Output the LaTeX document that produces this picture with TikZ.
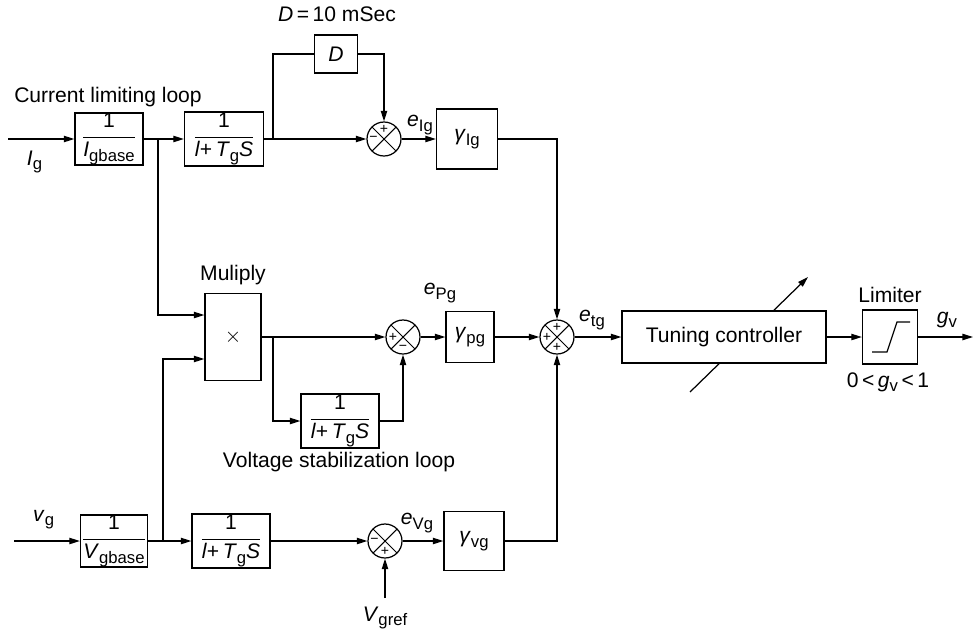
\documentclass[tikz,border=0pt]{standalone}
\usepackage{amsmath}
\usepackage{fontspec}
\setmainfont{Liberation Sans}
\usetikzlibrary{positioning, arrows.meta, calc}

\newcommand{\vsub}[2]{\textit{#1}\raisebox{-0.4ex}{\fontsize{9.5}{10}\selectfont #2}}
\newcommand{\blockfrac}[2]{$\dfrac{\text{#1}}{\text{#2}}$}

\begin{document}
\begin{tikzpicture}[x=0.02cm, y=-0.02cm,
  every node/.style={font=\fontsize{12}{14}\selectfont},
  block/.style={rectangle, draw, line width=0.7pt, inner sep=0pt, fill=white},
  sumjunc/.style={circle, draw, line width=0.7pt, minimum size=0.68cm, inner sep=0pt,
    path picture={\draw[line width=0.6pt] (path picture bounding box.north west) -- (path picture bounding box.south east)
      (path picture bounding box.north east) -- (path picture bounding box.south west);}},
  sign/.style={font=\fontsize{8}{9}\selectfont, inner sep=0pt},
  line/.style={line width=0.7pt},
  arr/.style={line width=0.7pt, -{Triangle[length=6pt,width=3.6pt]}}
]
\useasboundingbox (0,0) rectangle (973,632);

% Current limiting loop
\node (curlbl) at (108,97) {Current limiting loop};
\coordinate (igin) at (8,139);
\node[block, minimum width=1.36cm, minimum height=1.04cm] (igain) at (109,139) {\blockfrac{1}{\vsub{I}{gbase}}};
\node[block, minimum width=1.58cm, minimum height=1.08cm] (lagi) at (224,139) {\blockfrac{1}{\textit{l}+\,\vsub{T}{g}\textit{S}}};
\node[block, minimum width=0.86cm, minimum height=0.76cm] (dly) at (336,54) {\textit{D}};
\node (dlylbl) at (337,14) {\textit{D}\,=\,10 mSec};
\node[sumjunc] (sumi) at (384,139) {};
\node[sign] (sumip) at ([yshift=0.2cm]sumi.center) {+};
\node[sign] (sumim) at ([xshift=-0.21cm]sumi.center) {−};
\node[block, minimum width=1.22cm, minimum height=1.2cm] (gami) at (467,139) {\vsub{γ}{Ig}};

\draw[arr] (igin) -- node[below=3pt, pos=0.4] (iglbl) {\vsub{I}{g}} (igain);
\draw[arr] (igain) -- (lagi);
\draw[arr] (lagi) -- (sumi);
\draw[line] (273,139) |- (dly);
\draw[arr] (dly) -| (sumi);
\draw[arr] (sumi) -- (gami);
\node (eig) at (420,125) {\vsub{e}{Ig}};

% Multiply / voltage stabilization loop
\node (mullbl) at (233,275) {Muliply};
\node[block, minimum width=1.12cm, minimum height=1.74cm] (mul) at (233,337) {$\times$};
\node[sumjunc] (sump) at (403,337) {};
\node[sign] (sumpp) at ([xshift=-0.2cm]sump.center) {+};
\node[sign] (sumpm) at ([yshift=-0.21cm]sump.center) {−};
\node[block, minimum width=1.56cm, minimum height=1.08cm] (lagp) at (340,421) {\blockfrac{1}{\textit{l}+\,\vsub{T}{g}\textit{S}}};
\node (vslbl) at (339,462) {Voltage stabilization loop};
\node[block, minimum width=0.96cm, minimum height=1.02cm] (gamp) at (470,337) {\vsub{γ}{pg}};
\node (epg) at (440,293) {\vsub{e}{Pg}};

\draw[arr] (158,139) |- ([yshift=0.44cm]mul.west);
\draw[arr] (mul) -- (sump);
\draw[arr] (273,337) |- (lagp);
\draw[arr] (lagp) -| (sump);
\draw[arr] (sump) -- (gamp);

% Sum, controller and limiter
\coordinate (tunea) at (690,392);
\coordinate (tuneb) at (808,277);
\draw[arr] (tunea) -- (tuneb);
\node[sumjunc] (sumt) at (557,337) {};
\node[sign] (sumt1) at ([yshift=0.2cm]sumt.center) {+};
\node[sign] (sumt2) at ([xshift=-0.2cm]sumt.center) {+};
\node[sign] (sumt3) at ([yshift=-0.2cm]sumt.center) {+};
\node (etg) at (592,320) {\vsub{e}{tg}};
\node[block, minimum width=4.08cm, minimum height=1.04cm] (tune) at (724,337) {Tuning controller};
\node[block, minimum width=1.1cm, minimum height=1.08cm] (lim) at (890,337) {};
\node (limlbl) at (890,295) {Limiter};
\node (rnglbl) at (888,382) {0\,<\,\vsub{g}{v}\,<\,1};
\node (gvlbl) at (947,320) {\vsub{g}{v}};
\coordinate (gvout) at (973,337);
\draw[line] (872,352) -- (887,352) -- (897,322) -- (910,322);

\draw[arr] (gami) -| (sumt);
\draw[arr] (gamp) -- (sumt);
\draw[arr] (sumt) -- (tune);
\draw[arr] (tune) -- (lim);
\draw[arr] (lim) -- (gvout);

% Voltage input row
\coordinate (vgin) at (14,541);
\node[block, minimum width=1.34cm, minimum height=1.04cm] (vgain) at (114,541) {\blockfrac{1}{\vsub{V}{gbase}}};
\node[block, minimum width=1.56cm, minimum height=1.08cm] (lagv) at (231,541) {\blockfrac{1}{\textit{l}+\,\vsub{T}{g}\textit{S}}};
\node[sumjunc] (sumv) at (385,541) {};
\node[sign] (sumvm) at ([xshift=-0.21cm]sumv.center) {−};
\node[sign] (sumvp) at ([yshift=-0.2cm]sumv.center) {+};
\node[block, minimum width=1.2cm, minimum height=1.18cm] (gamv) at (474,541) {\vsub{γ}{vg}};
\node (evg) at (417,523) {\vsub{e}{Vg}};
\coordinate (vref) at (385,598);
\node (vreflbl) at (385,618) {\vsub{V}{gref}};

\draw[arr] (vgin) -- node[above=3pt, pos=0.45] (vglbl) {\vsub{v}{g}} (vgain);
\draw[arr] (vgain) -- (lagv);
\draw[arr] (163,541) |- ([yshift=-0.44cm]mul.west);
\draw[arr] (lagv) -- (sumv);
\draw[arr] (vref) -- (sumv);
\draw[arr] (sumv) -- (gamv);
\draw[arr] (gamv) -| (sumt);

\end{tikzpicture}
\end{document}
